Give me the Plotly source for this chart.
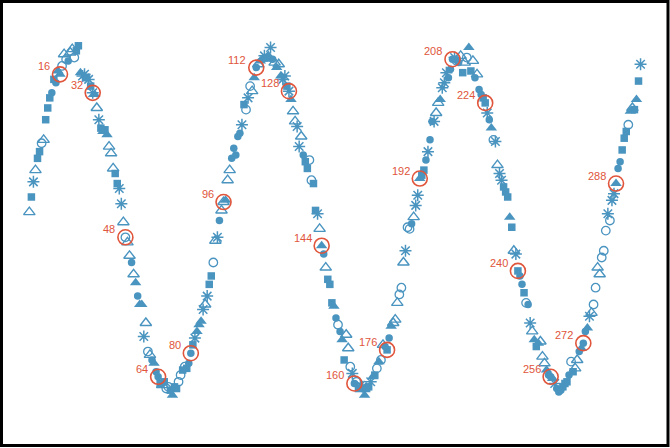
import plotly.graph_objects as go

idx = list(range(1, 301))
values = [
    0.05, 0.14, 0.23, 0.30, 0.37, 0.41, 0.46, 0.48, 0.60, 0.67,
    0.73, 0.76, 0.84, 0.82, 0.89, 0.87, 0.92, 0.99, 0.96, 0.95,
    1.00, 1.02, 0.97, 1.01, 1.04, 0.88, 0.86, 0.87, 0.85, 0.84,
    0.80, 0.76, 0.75, 0.67, 0.60, 0.55, 0.53, 0.54, 0.51, 0.44,
    0.40, 0.31, 0.28, 0.22, 0.19, 0.10, -0.01, -0.10, -0.13, -0.21,
    -0.25, -0.32, -0.37, -0.45, -0.50, -0.50, -0.69, -0.61, -0.78, -0.80,
    -0.83, -0.85, -0.90, -0.93, -0.97, -0.98, -0.96, -1.00, -0.99, -1.01,
    -1.04, -0.99, -1.00, -0.96, -0.92, -0.89, -0.87, -0.88, -0.85, -0.79,
    -0.74, -0.70, -0.66, -0.62, -0.60, -0.53, -0.50, -0.45, -0.38, -0.33,
    -0.25, -0.12, -0.10, 0.00, 0.06, 0.11, 0.12, 0.24, 0.30, 0.37,
    0.43, 0.39, 0.50, 0.52, 0.57, 0.69, 0.66, 0.73, 0.80, 0.77,
    0.85, 0.91, 0.93, 0.95, 0.96, 0.98, 0.96, 0.98, 1.03, 0.96,
    0.94, 0.91, 0.93, 0.86, 0.84, 0.86, 0.80, 0.77, 0.72, 0.65,
    0.59, 0.56, 0.44, 0.50, 0.39, 0.35, 0.31, 0.36, 0.24, 0.22,
    0.06, 0.04, -0.05, -0.15, -0.20, -0.28, -0.35, -0.38, -0.49, -0.51,
    -0.58, -0.62, -0.66, -0.71, -0.83, -0.68, -0.76, -0.87, -0.91, -0.97,
    -0.96, -1.00, -0.98, -0.99, -1.04, -1.00, -0.99, -0.96, -0.93, -0.92,
    -0.88, -0.84, -0.83, -0.74, -0.75, -0.77, -0.70, -0.63, -0.61, -0.59,
    -0.49, -0.44, -0.40, -0.25, -0.18, -0.04, -0.05, -0.02, 0.02, 0.09,
    0.15, 0.25, 0.27, 0.30, 0.36, 0.41, 0.48, 0.59, 0.59, 0.64,
    0.70, 0.72, 0.79, 0.82, 0.88, 0.85, 0.90, 0.96, 0.97, 0.95,
    0.94, 0.98, 0.88, 0.94, 0.97, 1.03, 0.89, 0.95, 0.85, 0.87,
    0.78, 0.75, 0.73, 0.70, 0.64, 0.60, 0.55, 0.48, 0.47, 0.33,
    0.28, 0.24, 0.20, 0.17, 0.14, 0.02, -0.04, -0.18, -0.20, -0.30,
    -0.33, -0.38, -0.43, -0.49, -0.50, -0.61, -0.66, -0.71, -0.75, -0.73,
    -0.72, -0.81, -0.85, -0.89, -0.92, -0.93, -0.94, -0.97, -1.00, -1.02,
    -1.01, -0.99, -0.97, -0.96, -0.92, -0.84, -0.90, -0.88, -0.83, -0.78,
    -0.76, -0.73, -0.66, -0.64, -0.57, -0.55, -0.50, -0.40, -0.28, -0.32,
    -0.22, -0.18, -0.06, 0.04, 0.00, 0.12, 0.16, 0.22, 0.31, 0.35,
    0.42, 0.49, 0.53, 0.57, 0.65, 0.67, 0.66, 0.72, 0.83, 0.93,
]
# marker shape per observation
shapes = (
    "tsatssotss" "scscffotoc" "ttossfaasa" "saftasfsft" "ttssaatott"
    "ctfcffatot" "cfccstsoos" "fssoososcc" "safffatass" "otacttfttc"
    "ccccasoaot" "fctffaffac" "tftfaasaft" "taatcssoos" "satfctsssf"
    "cocfsttoac" "osaafssafs" "ofotcscftt" "tootaoocta" "afsscaccat"
    "tfaaacccao" "ctstofstct" "ccssacfoat" "aasssfstas" "ccsocatfsf"
    "tttfccfacc" "cssscosttc" "fccfatoott" "oooaoaafcc" "sssoftsfsa"
)
labelled = list(range(16, 300, 16))

blue = "#4a94c0"
red = "#e0553b"
symbol_style = {
    "t": ("triangle-up-open", 10, 1.4),
    "s": ("square", 7.5, 0),
    "c": ("circle", 7.5, 0),
    "o": ("circle-open", 8.5, 1.3),
    "a": ("asterisk-open", 10, 1.5),
    "f": ("triangle-up", 10, 0),
}

fig = go.Figure()
for code, (sym, size, lw) in symbol_style.items():
    xs = [i for i, s in zip(idx, shapes) if s == code]
    ys = [v for v, s in zip(values, shapes) if s == code]
    fig.add_trace(go.Scatter(
        x=xs, y=ys, mode="markers", showlegend=False,
        marker=dict(symbol=sym, size=size, color=blue,
                    line=dict(width=lw, color=blue)),
    ))

lab_y = [values[i - 1] for i in labelled]
fig.add_trace(go.Scatter(
    x=labelled, y=lab_y, mode="markers", showlegend=False,
    marker=dict(symbol="circle-open", size=15, color=red,
                line=dict(width=1.6, color=red)),
))
for i, v in zip(labelled, lab_y):
    fig.add_annotation(x=i, y=v, text=str(i), showarrow=False,
                       xanchor="right", yanchor="middle",
                       xshift=-8, yshift=8,
                       font=dict(family="Liberation Sans, Arial", size=11, color=red))

fig.add_shape(type="rect", xref="paper", yref="paper",
              x0=1.5 / 670, x1=668 / 670, y0=2.5 / 448, y1=1 - 1.5 / 448,
              line=dict(color="black", width=3))

fig.update_layout(
    width=670, height=448,
    margin=dict(l=0, r=0, t=0, b=0),
    paper_bgcolor="white", plot_bgcolor="white",
    xaxis=dict(range=[-13.35, 314.4], visible=False),
    yaxis=dict(range=[-1.354, 1.3125], visible=False),
)

# drop the page margin so the figure sits at the window corner
fig.write_html("out.html", config={"displayModeBar": False},
               post_script="document.body.style.margin='0';")
